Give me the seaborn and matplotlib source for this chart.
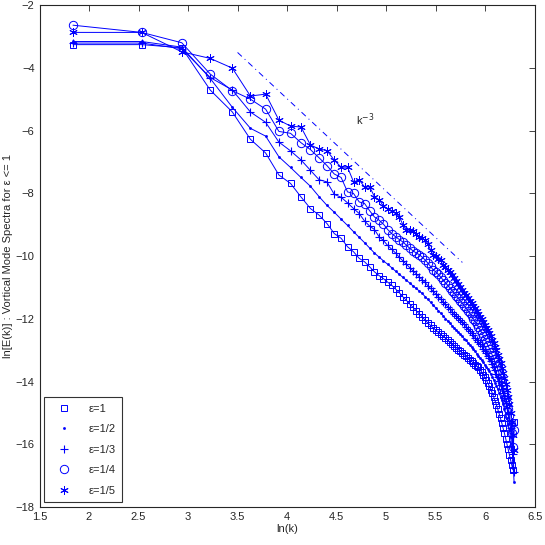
import numpy as np
import pandas as pd
import seaborn as sns
import matplotlib.pyplot as plt
from matplotlib.lines import Line2D

# mode numbers n, k = 2*pi*n
mode_n = list(range(1, 87))

eps_1 = [-3.25, -3.25, -3.35, -4.70, -5.40, -6.27, -6.71, -7.41, -7.68, -8.11,
         -8.48, -8.69, -8.96, -9.28, -9.43, -9.70, -9.86, -10.07, -10.18, -10.34,
         -10.50, -10.62, -10.72, -10.83, -10.93, -11.05, -11.17, -11.30, -11.41, -11.53,
         -11.63, -11.74, -11.84, -11.94, -12.04, -12.13, -12.21, -12.29, -12.36, -12.43,
         -12.50, -12.56, -12.62, -12.68, -12.74, -12.80, -12.86, -12.92, -12.98, -13.04,
         -13.09, -13.14, -13.20, -13.25, -13.30, -13.36, -13.41, -13.46, -13.50, -13.55,
         -13.62, -13.70, -13.78, -13.87, -13.96, -14.05, -14.15, -14.26, -14.37, -14.49,
         -14.62, -14.75, -14.89, -15.03, -15.18, -15.33, -15.49, -15.65, -15.82, -15.99,
         -16.16, -16.33, -16.50, -16.66, -16.82, -15.30]

eps_2 = [-3.15, -3.15, -3.33, -4.33, -5.25, -5.92, -6.17, -6.83, -7.17, -7.49,
         -7.77, -8.10, -8.38, -8.60, -8.82, -9.02, -9.22, -9.40, -9.57, -9.74,
         -9.90, -10.03, -10.15, -10.26, -10.37, -10.48, -10.58, -10.68, -10.77, -10.86,
         -10.95, -11.03, -11.11, -11.19, -11.29, -11.38, -11.47, -11.57, -11.65, -11.74,
         -11.82, -11.90, -11.99, -12.07, -12.14, -12.22, -12.29, -12.36, -12.43, -12.50,
         -12.56, -12.63, -12.69, -12.76, -12.83, -12.90, -12.97, -13.04, -13.11, -13.18,
         -13.25, -13.32, -13.39, -13.46, -13.53, -13.60, -13.68, -13.76, -13.85, -13.94,
         -14.04, -14.14, -14.25, -14.36, -14.48, -14.60, -14.73, -14.87, -15.02, -15.18,
         -15.36, -15.55, -15.77, -16.05, -16.50, -17.20]

eps_3 = [-3.20, -3.20, -3.38, -4.30, -4.70, -5.40, -5.73, -6.36, -6.64, -6.93,
         -7.26, -7.56, -7.63, -8.03, -8.12, -8.30, -8.48, -8.64, -8.88, -9.04,
         -9.15, -9.38, -9.50, -9.66, -9.78, -9.90, -10.04, -10.15, -10.26, -10.37,
         -10.47, -10.56, -10.66, -10.75, -10.84, -10.94, -11.03, -11.12, -11.21, -11.29,
         -11.38, -11.46, -11.54, -11.62, -11.69, -11.77, -11.84, -11.91, -11.98, -12.05,
         -12.11, -12.18, -12.25, -12.32, -12.39, -12.46, -12.53, -12.60, -12.67, -12.74,
         -12.81, -12.88, -12.95, -13.02, -13.10, -13.18, -13.26, -13.35, -13.44, -13.54,
         -13.64, -13.75, -13.86, -13.98, -14.10, -14.23, -14.37, -14.52, -14.68, -14.85,
         -15.04, -15.25, -15.48, -15.75, -16.30, -16.90]

eps_4 = [-2.63, -2.86, -3.19, -4.19, -4.72, -4.99, -5.31, -6.02, -6.08, -6.38,
         -6.60, -6.86, -7.11, -7.38, -7.49, -7.95, -8.00, -8.27, -8.32, -8.55,
         -8.75, -8.85, -8.98, -9.15, -9.28, -9.38, -9.47, -9.55, -9.65, -9.75,
         -9.83, -9.90, -9.95, -10.03, -10.12, -10.22, -10.33, -10.44, -10.50, -10.58,
         -10.67, -10.76, -10.85, -10.93, -11.01, -11.10, -11.18, -11.26, -11.34, -11.42,
         -11.50, -11.58, -11.66, -11.74, -11.82, -11.91, -12.00, -12.08, -12.17, -12.26,
         -12.35, -12.44, -12.54, -12.64, -12.74, -12.84, -12.95, -13.05, -13.16, -13.27,
         -13.38, -13.50, -13.62, -13.75, -13.88, -14.02, -14.17, -14.33, -14.50, -14.68,
         -14.88, -15.10, -15.35, -15.65, -16.10, -15.55]

eps_5 = [-2.86, -2.86, -3.48, -3.69, -4.00, -4.89, -4.83, -5.66, -5.85, -5.88,
         -6.45, -6.58, -6.63, -6.94, -7.16, -7.16, -7.63, -7.57, -7.79, -7.79,
         -8.10, -8.20, -8.40, -8.48, -8.55, -8.62, -8.75, -9.00, -9.17, -9.17,
         -9.20, -9.30, -9.40, -9.43, -9.49, -9.60, -9.80, -9.97, -10.00, -10.08,
         -10.13, -10.29, -10.35, -10.45, -10.52, -10.61, -10.70, -10.80, -10.90, -11.00,
         -11.08, -11.17, -11.25, -11.33, -11.42, -11.50, -11.58, -11.67, -11.75, -11.84,
         -11.93, -12.02, -12.11, -12.20, -12.29, -12.37, -12.45, -12.55, -12.66, -12.77,
         -12.89, -13.01, -13.14, -13.27, -13.41, -13.56, -13.72, -13.89, -14.07, -14.27,
         -14.49, -14.73, -15.00, -15.30, -15.70, -16.20]

labels = ["ε=1", "ε=1/2", "ε=1/3", "ε=1/4", "ε=1/5"]
series = [eps_1, eps_2, eps_3, eps_4, eps_5]

# k^-3 guide line end points (ln k, ln E)
ref_x = [3.5, 5.77]
ref_y = [-3.5, -10.2]

sns.set_style("white")
plt.rcParams["font.family"] = ["Liberation Sans", "DejaVu Sans"]
plt.rcParams["xtick.direction"] = "in"
plt.rcParams["ytick.direction"] = "in"

lnk = np.log(2 * np.pi * np.array(mode_n))
df = pd.DataFrame({"lnk": np.tile(lnk, 5),
                   "lnE": np.concatenate(series),
                   "eps": np.repeat(labels, len(mode_n))})

blue = "#0000ff"
marker_style = {
    "ε=1": dict(marker="s", ms=5, mfc="none", mew=0.7),
    "ε=1/2": dict(marker=".", ms=3, mfc=blue, mew=0.5),
    "ε=1/3": dict(marker="+", ms=6, mew=0.8),
    "ε=1/4": dict(marker="o", ms=6, mfc="none", mew=0.7),
    "ε=1/5": dict(marker=(6, 2, 0), ms=6, mew=0.7),
}

fig = plt.figure(figsize=(5.45, 5.45), dpi=100)
ax = fig.add_axes([0.0725, 0.07, 0.9085, 0.92])

for lab in labels:
    sub = df[df["eps"] == lab]
    sns.lineplot(data=sub, x="lnk", y="lnE", ax=ax, color=blue, lw=0.7,
                 mec=blue, legend=False, sort=False, **marker_style[lab])

ax.plot(ref_x, ref_y, color=blue, lw=0.7, ls=(0, (6, 4, 1, 4)))
ax.text(4.7, -5.8, r"k$^{-3}$", fontsize=8)

ax.set_xlim(1.5, 6.5)
ax.set_ylim(-18, -2)
ax.set_xticks(np.arange(1.5, 6.51, 0.5))
ax.set_yticks(np.arange(-18, -1.9, 2))
ax.set_xticklabels(["1.5", "2", "2.5", "3", "3.5", "4", "4.5", "5", "5.5", "6", "6.5"])
ax.set_yticklabels(["\u221218", "\u221216", "\u221214", "\u221212", "\u221210",
                    "\u22128", "\u22126", "\u22124", "\u22122"])
ax.tick_params(labelsize=8, top=True, right=True, length=4, width=0.6)
for s in ax.spines.values():
    s.set_linewidth(0.8)
ax.set_xlabel("ln(k)", fontsize=8, labelpad=2)
ax.set_ylabel("ln[E(k)] : Vortical Mode Spectra for ε <= 1", fontsize=8, labelpad=2)

handles = [Line2D([], [], ls="none", color=blue, mec=blue, **marker_style[lab])
           for lab in labels]
leg = ax.legend(handles, labels, loc="lower left", fontsize=8, frameon=True,
                fancybox=False, edgecolor="black", borderaxespad=0.4,
                handletextpad=1.0, handlelength=2.4, labelspacing=0.95,
                borderpad=0.6)
leg.get_frame().set_linewidth(0.8)

fig.savefig("out.png", dpi=100)
